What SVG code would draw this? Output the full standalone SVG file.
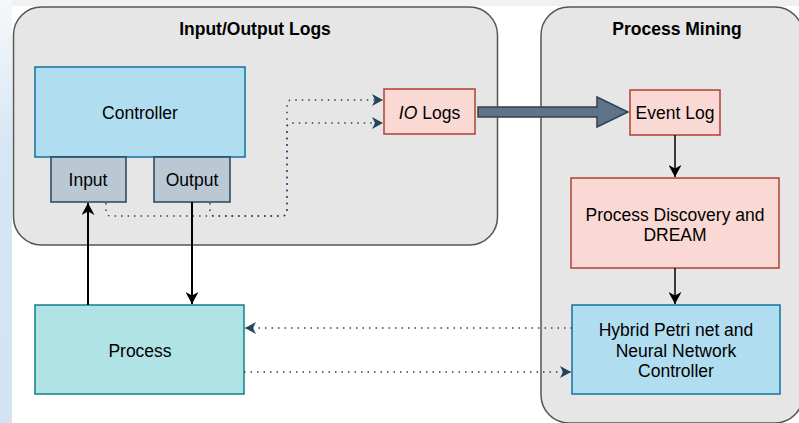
<svg xmlns="http://www.w3.org/2000/svg" width="799" height="423" viewBox="0 0 799 423">
<style>
text{font-family:"Liberation Sans",Arial,Helvetica,sans-serif;font-size:17.5px;fill:#000;text-anchor:middle}
.title{font-weight:bold}
.cont{fill:#e6e6e6;stroke:#555;stroke-width:1.5}
.blue{fill:#b1ddf0;stroke:#10739e;stroke-width:1.5}
.grey{fill:#bac8d3;stroke:#23445d;stroke-width:1.5}
.red{fill:#fad9d5;stroke:#ae4132;stroke-width:1.5}
.teal{fill:#b0e3e6;stroke:#0e8088;stroke-width:1.5}
.solid{fill:none;stroke:#000;stroke-width:2;marker-end:url(#ab)}
.dot{fill:none;stroke:#23445d;stroke-width:1.5;stroke-dasharray:1.5 5;marker-end:url(#ad)}
</style>
<defs>
<linearGradient id="lg" x1="0" y1="0" x2="0" y2="1">
<stop offset="0" stop-color="#f6f8fa"/>
<stop offset="0.35" stop-color="#d6e6f4"/>
<stop offset="1" stop-color="#d3e3f2"/>
</linearGradient>
<marker id="ab" markerUnits="userSpaceOnUse" markerWidth="13" markerHeight="13" refX="12" refY="6.5" orient="auto" viewBox="0 0 13 13">
<path d="M0,0 L12,6.5 L0,13 L3.5,6.5 Z" fill="#000"/>
</marker>
<marker id="ad" markerUnits="userSpaceOnUse" markerWidth="12" markerHeight="12" refX="11" refY="6" orient="auto" viewBox="0 0 12 12">
<path d="M0,0 L11,6 L0,12 L3,6 Z" fill="#23445d"/>
</marker>
</defs>
<rect x="0" y="0" width="799" height="423" fill="#fff"/>
<rect x="0" y="0" width="799" height="6" fill="#f1f1f1"/>
<rect x="0" y="0" width="12" height="423" fill="url(#lg)"/>

<g id="io-logs-container">
<rect class="cont" x="13.5" y="7" width="484" height="238" rx="28" ry="28"/>
<text class="title" x="255" y="35">Input/Output Logs</text>
</g>
<g id="process-mining-container">
<rect class="cont" x="541" y="7" width="262" height="416" rx="28" ry="28"/>
<text class="title" x="677" y="35">Process Mining</text>
</g>

<g id="controller">
<rect class="blue" x="35" y="67" width="210" height="90"/>
<text x="140" y="119">Controller</text>
</g>
<g id="input">
<rect class="grey" x="51" y="157" width="75" height="45"/>
<text x="88" y="186">Input</text>
</g>
<g id="output">
<rect class="grey" x="154" y="157" width="76" height="45"/>
<text x="192" y="186">Output</text>
</g>
<g id="io-logs">
<rect class="red" x="384" y="89" width="91" height="45"/>
<text x="429.5" y="119"><tspan font-style="italic">IO</tspan> Logs</text>
</g>
<g id="event-log">
<rect class="red" x="630" y="90" width="90" height="45"/>
<text x="675" y="119">Event Log</text>
</g>
<g id="process-discovery">
<rect class="red" x="571" y="178" width="208" height="90"/>
<text x="675" y="221">Process Discovery and</text>
<text x="675" y="241">DREAM</text>
</g>
<g id="hybrid-controller">
<rect class="blue" x="572" y="305" width="208" height="89"/>
<text x="676" y="336">Hybrid Petri net and</text>
<text x="676" y="357">Neural Network</text>
<text x="676" y="377">Controller</text>
</g>
<g id="process">
<rect class="teal" x="35" y="305" width="209" height="89"/>
<text x="140" y="357">Process</text>
</g>

<g id="connectors">
<path class="dot" d="M106,203 V211 Q106,216 111,216 H282 Q287,216 287,211 V105 Q287,100 292,100 H383"/>
<path class="dot" d="M210,203 V211 Q210,216 215,216 H282 Q287,216 287,211 V128 Q287,123 292,123 H383"/>
<polygon points="478,107 597,107 597,97 628,112 597,127 597,117 478,117" fill="#5f7487" stroke="#2f4252" stroke-width="1.5"/>
<path class="solid" d="M88,305 V203"/>
<path class="solid" d="M192,202 V304"/>
<path class="solid" style="stroke-width:1.5" d="M675,135 V177"/>
<path class="solid" style="stroke-width:1.5" d="M675,268 V304"/>
<path class="dot" d="M572,328 H245"/>
<path class="dot" d="M244,372 H571"/>
</g>
</svg>
